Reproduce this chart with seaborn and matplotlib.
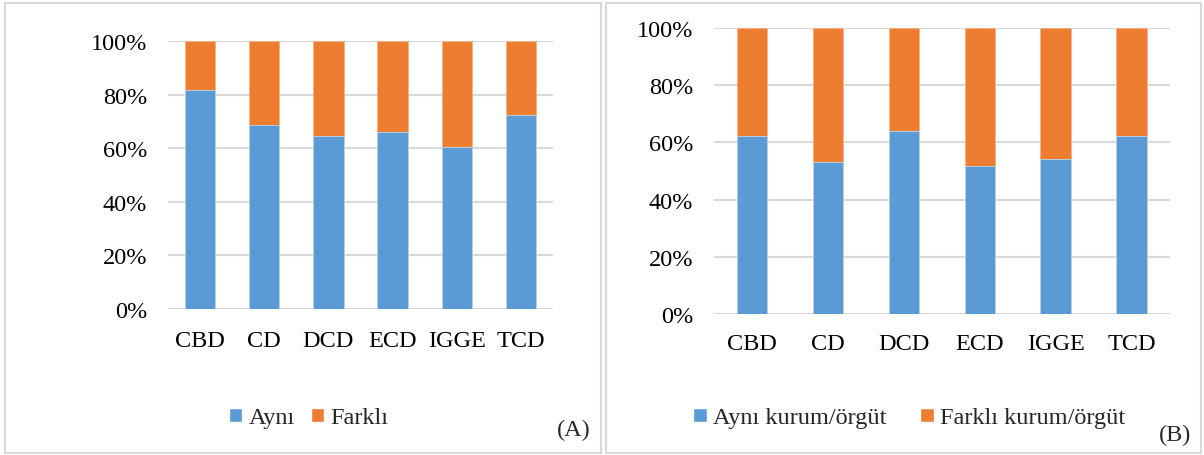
#%% Grafik: Aynı / Farklı kurum oranları (A) ve (B)

import matplotlib
matplotlib.use('Agg')
import matplotlib.pyplot as plt
from matplotlib.patches import Patch, Rectangle
from matplotlib.ticker import PercentFormatter
import pandas as pd
import seaborn as sns

#%% Veriler (görselden okunan değerler)

kategoriler = ['CBD', 'CD', 'DCD', 'ECD', 'IGGE', 'TCD']

ayni_a = [0.818, 0.685, 0.646, 0.659, 0.606, 0.725]
farkli_a = [0.182, 0.315, 0.354, 0.341, 0.394, 0.275]

ayni_b = [0.623, 0.533, 0.639, 0.519, 0.543, 0.622]
farkli_b = [0.377, 0.467, 0.361, 0.481, 0.457, 0.378]

etiket_a = ['Aynı', 'Farklı']
etiket_b = ['Aynı kurum/örgüt', 'Farklı kurum/örgüt']

mavi = '#5B9BD5'
turuncu = '#ED7D31'
grid_renk = '#D9D9D9'

#%% Tema

sns.set_theme(style='white')
plt.rcParams['font.family'] = ['Liberation Serif', 'DejaVu Serif']
fs = 17.5

fig = plt.figure(figsize=(12.04, 4.56), dpi=100)

# panel çerçeveleri
W, H = 1204, 456
for x0, x1 in [(5, 601), (606, 1201)]:
    fig.patches.append(Rectangle((x0 / W, 2 / H), (x1 - x0) / W, (452 - 2) / H,
                                 transform=fig.transFigure, fill=False,
                                 edgecolor=grid_renk, linewidth=1.5))

def panel(ax, ayni, farkli, genislik, xpad):
    df = pd.DataFrame({'kategori': kategoriler, 'ayni': ayni, 'farkli': farkli})
    df['toplam'] = df['ayni'] + df['farkli']
    sns.barplot(data=df, x='kategori', y='toplam', color=turuncu, width=genislik,
                saturation=1, edgecolor='#F4B183', linewidth=0.6, ax=ax)
    sns.barplot(data=df, x='kategori', y='ayni', color=mavi, width=genislik,
                saturation=1, edgecolor='#BDD7EE', linewidth=0.6, ax=ax)
    ax.set_ylim(0, 1)
    ax.set_xlim(-0.5, len(kategoriler) - 0.5)
    ax.yaxis.set_major_formatter(PercentFormatter(1.0, decimals=0))
    ax.set_yticks([0, 0.2, 0.4, 0.6, 0.8, 1.0])
    ax.grid(axis='y', color=grid_renk, linewidth=1.5)
    ax.set_axisbelow(True)
    for s in ax.spines.values():
        s.set_visible(False)
    ax.set_xlabel('')
    ax.set_ylabel('')
    ax.tick_params(axis='y', length=0, pad=15, labelsize=fs, colors='black')
    ax.tick_params(axis='x', length=0, pad=xpad, labelsize=fs, colors='black')

#%% Panel A

ax1 = fig.add_axes([168 / W, 1 - 310 / H, (553 - 168) / W, (310 - 42) / H])
panel(ax1, ayni_a, farkli_a, 0.475, 15)

#%% Panel B

ax2 = fig.add_axes([714 / W, 1 - 315 / H, (1169.5 - 714) / W, (315 - 29) / H])
panel(ax2, ayni_b, farkli_b, 0.40, 13.5)

#%% Lejantlar

for etiketler, cx, aralik in [(etiket_a, 308.5, 0.65), (etiket_b, 909, 1.4)]:
    el = [Patch(facecolor=mavi, label=etiketler[0]),
          Patch(facecolor=turuncu, label=etiketler[1])]
    fig.legend(handles=el, loc='center', bbox_to_anchor=(cx / W, 1 - 419 / H),
               ncol=2, frameon=False, fontsize=fs, handlelength=0.55,
               handleheight=0.55, handletextpad=0.25, columnspacing=aralik,
               borderpad=0)

fig.text(574 / W, 1 - 430 / H, '(A)', ha='center', va='center', fontsize=fs)
fig.text(1175 / W, 1 - 435 / H, '(B)', ha='center', va='center', fontsize=fs)

fig.savefig('out.png', dpi=100)
